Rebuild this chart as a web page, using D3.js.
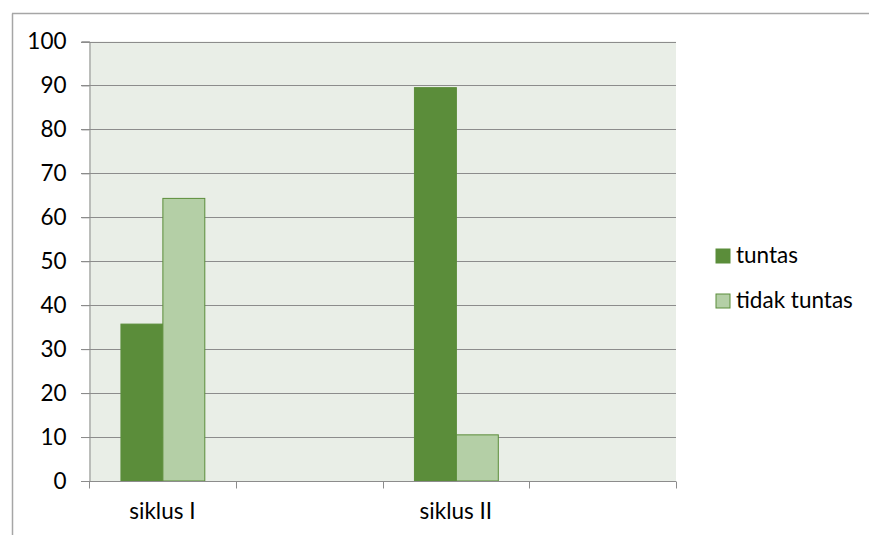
<!DOCTYPE html>
<html><head><meta charset="utf-8">
<script src="https://cdn.jsdelivr.net/npm/d3@7"></script>
<style>body{margin:0;background:#fff}svg{display:block}</style>
</head><body>
<script>
const categories = ["siklus I", "", "siklus II", ""];
const seriesNames = ["tuntas", "tidak tuntas"];
const tuntas = [35.7, null, 89.5, null];
const tidakTuntas = [64.3, null, 10.5, null];
const yTicks = [0,10,20,30,40,50,60,70,80,90,100];

const W = 869, H = 535;
const colors = ["#5B8D3A", "#B4CFA6"];
const font = "Lato, 'Open Sans', sans-serif";
const fs = 22.5;

const svg = d3.select("body").append("svg").attr("width", W).attr("height", H);

// outer frame
svg.append("line").attr("x1",12.5).attr("x2",12.5).attr("y1",13.5).attr("y2",H).attr("stroke","#A6A6A6").attr("stroke-width",1.5);
svg.append("line").attr("x1",12).attr("x2",W).attr("y1",13.5).attr("y2",13.5).attr("stroke","#A6A6A6").attr("stroke-width",1.5);

const x = d3.scaleBand().domain(d3.range(categories.length)).range([89, 676]);
const y = d3.scaleLinear().domain([0,100]).range([481, 41.5]);

svg.append("rect").attr("x",89).attr("y",y(100)).attr("width",676-89).attr("height",y(0)-y(100)).attr("fill","#E9EEE7");

// gridlines
svg.append("g").selectAll("line").data(yTicks.filter(d=>d>0)).join("line")
  .attr("x1",81).attr("x2",676).attr("y1",d=>Math.round(y(d))+0.5).attr("y2",d=>Math.round(y(d))+0.5)
  .attr("stroke","#8C8C8C").attr("stroke-width",1);

// y axis
const yAxis = svg.append("g").attr("transform","translate(89.5,0)")
  .call(d3.axisLeft(y).tickValues(yTicks).tickSize(8).tickPadding(15));
yAxis.select(".domain").attr("stroke","#8C8C8C");
yAxis.selectAll(".tick line").attr("stroke","#8C8C8C");
yAxis.selectAll("text").attr("font-family",font).attr("font-size",fs).attr("fill","#000");

// bars
const bw = x.bandwidth()/3.5;
const data = [tuntas, tidakTuntas];
data.forEach((vals,si)=>{
  svg.append("g").selectAll("rect").data(vals.map((v,i)=>({v,i})).filter(d=>d.v!=null)).join("rect")
    .attr("x", d=> x(d.i) + (x.bandwidth()-2*bw)/2 + si*bw + 0.5)
    .attr("y", d=> y(d.v))
    .attr("width", bw)
    .attr("height", d=> y(0)-y(d.v))
    .attr("fill", colors[si])
    .attr("stroke", "#5B8D3A").attr("stroke-width",1);
});

// x axis
const xAxis = svg.append("g").attr("transform","translate(0,481.5)");
xAxis.append("line").attr("x1",81).attr("x2",676).attr("stroke","#8C8C8C");
const xt = d3.range(categories.length+1).map(i=> i<categories.length ? x(i) : 676);
xAxis.selectAll(".t").data(xt).join("line").attr("class","t")
  .attr("x1",d=>Math.round(d)+0.5).attr("x2",d=>Math.round(d)+0.5).attr("y1",0).attr("y2",7).attr("stroke","#8C8C8C");
xAxis.selectAll("text").data(categories).join("text")
  .attr("x",(d,i)=>x(i)+x.bandwidth()/2).attr("y",37)
  .attr("text-anchor","middle").attr("font-family",font).attr("font-size",fs).attr("fill","#000").text(d=>d);

// legend
const lg = svg.append("g");
seriesNames.forEach((n,i)=>{
  const yy = 249 + i*45;
  lg.append("rect").attr("x",716).attr("y",yy).attr("width",14).attr("height",14)
    .attr("fill",colors[i]).attr("stroke","#5B8D3A");
  lg.append("text").attr("x",736).attr("y",yy+14).attr("font-family",font).attr("font-size",fs).attr("fill","#000").text(n);
});
</script>
</body></html>
